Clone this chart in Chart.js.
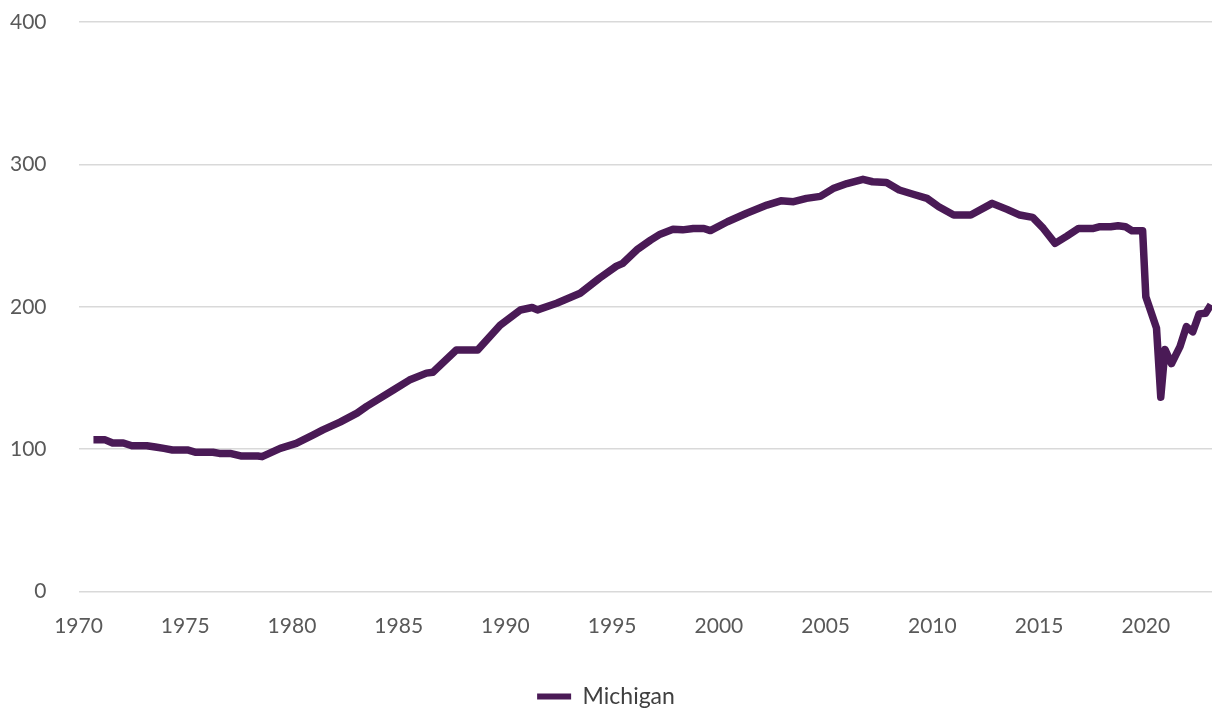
<!DOCTYPE html>
<html>
<head>
<meta charset="utf-8">
<script src="https://cdn.jsdelivr.net/npm/chart.js@4/dist/chart.umd.min.js"></script>
<style>
  html, body { margin: 0; padding: 0; background: #ffffff; }
  #wrap { width: 1212px; height: 709px; position: relative; }
</style>
</head>
<body>
<div id="wrap"><canvas id="c"></canvas></div>
<script>
const seriesName = "Michigan";
const years = [
  1970.7, 1971.25, 1971.6, 1972.1, 1972.5, 1973.2, 1973.6, 1974.0, 1974.4, 1975.1,
  1975.5, 1976.3, 1976.6, 1977.1, 1977.6, 1978.4, 1978.6, 1979.45, 1980.2, 1981.0,
  1981.45, 1982.25, 1983.05, 1983.5, 1984.75, 1985.5, 1986.3, 1986.6, 1987.7, 1988.7,
  1989.75, 1990.7, 1991.25, 1991.5, 1992.4, 1993.5, 1994.4, 1995.2, 1995.5, 1996.2,
  1996.8, 1997.25, 1997.85, 1998.3, 1998.8, 1999.3, 1999.6, 2000.4, 2001.3, 2002.25,
  2002.9, 2003.5, 2004.1, 2004.75, 2005.35, 2006.0, 2006.75, 2007.2, 2007.85, 2008.45,
  2009.1, 2009.75, 2010.3, 2011.0, 2011.8, 2012.8, 2013.5, 2014.1, 2014.7, 2015.2,
  2015.75, 2016.3, 2016.85, 2017.55, 2017.85, 2018.35, 2018.7, 2019.05, 2019.35, 2019.85,
  2020.0, 2020.5, 2020.7, 2020.9, 2021.2, 2021.6, 2021.9, 2022.2, 2022.5, 2022.8,
  2023.05
];
const values = [
  106.5, 106.5, 104.3, 104.3, 102.4, 102.4, 101.5, 100.5, 99.4, 99.4,
  97.8, 97.8, 97.0, 97.0, 95.2, 95.2, 94.7, 100.5, 104.0, 110.0,
  113.5, 119.0, 125.3, 130.0, 141.5, 148.5, 153.4, 154.0, 169.6, 169.6,
  187.0, 197.7, 199.5, 197.8, 202.5, 209.5, 220.0, 228.5, 230.5, 240.5,
  246.8, 251.0, 254.4, 254.0, 255.0, 255.0, 253.5, 259.7, 265.7, 271.4,
  274.4, 273.8, 276.1, 277.5, 283.0, 286.5, 289.5, 287.8, 287.3, 282.0,
  279.0, 276.1, 270.2, 264.4, 264.4, 272.6, 268.4, 264.4, 262.8, 255.0,
  244.5, 249.6, 255.0, 255.0, 256.2, 256.2, 256.9, 256.2, 253.4, 253.4,
  207.0, 185.0, 136.5, 170.0, 160.0, 172.0, 186.0, 182.4, 195.0, 195.5,
  201.5
];
const yTicks = [0, 100, 200, 300, 400];
const xTicks = [1970, 1975, 1980, 1985, 1990, 1995, 2000, 2005, 2010, 2015, 2020];

const lineColor = "#4a1a56";
const fontFamily = "Lato, 'Open Sans', sans-serif";

const points = years.map((x, i) => ({ x: x, y: values[i] }));

new Chart(document.getElementById("c"), {
  type: "line",
  data: {
    datasets: [{
      label: seriesName,
      data: points,
      borderColor: lineColor,
      backgroundColor: lineColor,
      borderWidth: 7.5,
      pointRadius: 0,
      tension: 0,
      borderJoinStyle: "round",
      borderCapStyle: "butt"
    }]
  },
  options: {
    responsive: true,
    maintainAspectRatio: false,
    animation: false,
    layout: { padding: { top: 22, right: 0, left: 0, bottom: -9 } },
    plugins: {
      tooltip: { enabled: false },
      legend: {
        position: "bottom",
        labels: {
          boxWidth: 34,
          boxHeight: 6,
          padding: 0,
          color: "#404040",
          font: { family: fontFamily, size: 23, lineHeight: 1 },
          generateLabels: (chart) => {
            const items = Chart.defaults.plugins.legend.labels.generateLabels(chart);
            items.forEach(it => { it.lineWidth = 0; it.strokeStyle = "rgba(0,0,0,0)"; it.fillStyle = lineColor; });
            return items;
          }
        }
      }
    },
    scales: {
      x: {
        type: "linear",
        min: 1970,
        max: 2023.1,
        afterBuildTicks: (s) => { s.ticks = xTicks.map(v => ({ value: v })); },
        grid: { display: false, drawTicks: false },
        border: { display: false },
        ticks: {
          padding: 22,
          color: "#595959",
          font: { family: fontFamily, size: 21 },
          maxRotation: 0,
          autoSkip: false,
          callback: (v) => String(v)
        },
        afterFit: (s) => { s.height = 93.5; s.paddingLeft = 0; s.paddingRight = 0; }
      },
      y: {
        min: yTicks[0],
        max: yTicks[yTicks.length - 1],
        afterBuildTicks: (s) => { s.ticks = yTicks.map(v => ({ value: v })); },
        grid: { color: "#d9d9d9", lineWidth: 1.5, drawTicks: false },
        border: { display: false },
        ticks: {
          padding: 32,
          color: "#595959",
          font: { family: fontFamily, size: 21 }
        },
        afterFit: (s) => { s.width = 78.5; s.paddingTop = 0; s.paddingBottom = 0; }
      }
    }
  }
});
</script>
</body>
</html>
